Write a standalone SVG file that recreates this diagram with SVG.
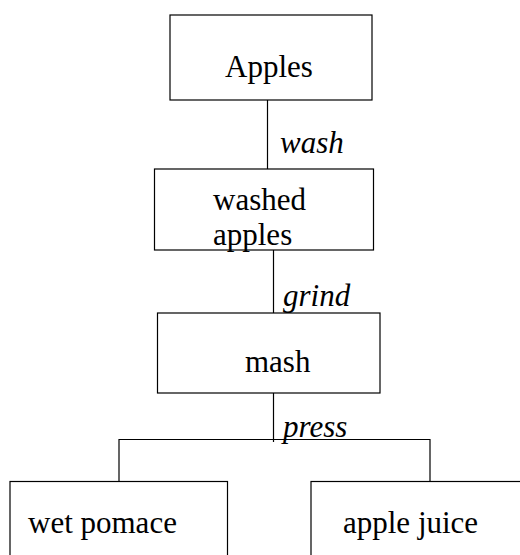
<svg xmlns="http://www.w3.org/2000/svg" width="520" height="555" viewBox="0 0 520 555">
<style>
.box{fill:#fff;stroke:#000;stroke-width:1.2}
.t{font-family:"Liberation Serif","Times New Roman",serif;font-size:31px;fill:#000}
.lbl{font-family:"Liberation Serif","Times New Roman",serif;font-size:31px;font-style:italic;fill:#000}
.c{fill:none;stroke:#000;stroke-width:1.2}
</style>
<rect width="520" height="555" fill="#fff"/>
<g id="connectors">
<line class="c" x1="267.5" y1="100" x2="267.5" y2="169"/>
<line class="c" x1="273.5" y1="250" x2="273.5" y2="313"/>
<line class="c" x1="273.5" y1="393" x2="273.5" y2="442"/>
<polyline class="c" points="119,481 119,439.5 430,439.5 430,481"/>
<text class="lbl" x="280" y="153">wash</text>
<text class="lbl" x="283" y="306">grind</text>
<text class="lbl" x="283" y="437">press</text>
</g>
<g id="apples">
<rect class="box" x="170" y="15" width="202" height="85"/>
<text class="t" x="225" y="77">Apples</text>
</g>
<g id="washed-apples">
<rect class="box" x="154.5" y="169" width="219" height="81"/>
<text class="t" x="213" y="210">washed</text>
<text class="t" x="213" y="245">apples</text>
</g>
<g id="mash">
<rect class="box" x="157.5" y="313" width="222.5" height="80"/>
<text class="t" x="245" y="372">mash</text>
</g>
<g id="wet-pomace">
<rect class="box" x="10" y="481.5" width="217.5" height="90"/>
<text class="t" x="28" y="533">wet pomace</text>
</g>
<g id="apple-juice">
<rect class="box" x="311" y="481.5" width="230" height="90"/>
<text class="t" x="343" y="533">apple juice</text>
</g>
</svg>
